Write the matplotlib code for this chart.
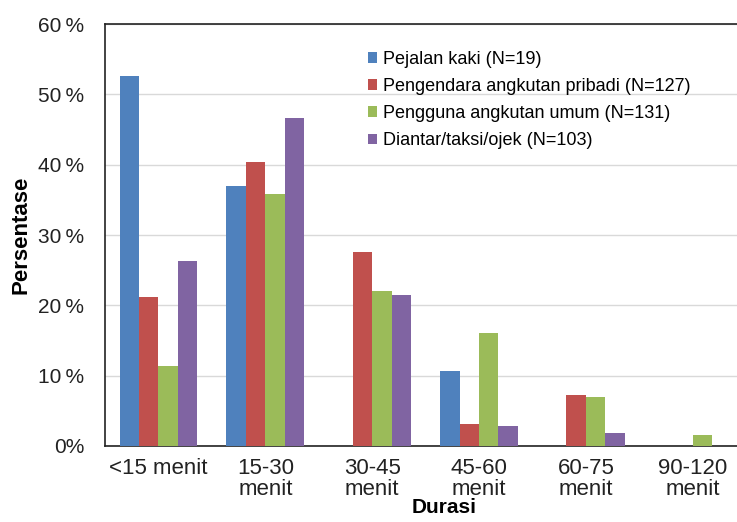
import numpy as np
import matplotlib.pyplot as plt

plt.rcParams['font.family'] = ['Liberation Sans', 'DejaVu Sans']

durasi = ['<15 menit', '15-30\nmenit', '30-45\nmenit', '45-60\nmenit', '60-75\nmenit', '90-120\nmenit']
pejalan_kaki = [52.6, 36.9, 0.0, 10.6, 0.0, 0.0]
pengendara_pribadi = [21.2, 40.4, 27.6, 3.1, 7.3, 0.0]
pengguna_umum = [11.4, 35.9, 22.1, 16.0, 7.0, 1.6]
diantar = [26.3, 46.7, 21.4, 2.9, 1.9, 0.0]

series = [
    ('Pejalan kaki (N=19)', pejalan_kaki, '#4F81BD'),
    ('Pengendara angkutan pribadi (N=127)', pengendara_pribadi, '#C0504D'),
    ('Pengguna angkutan umum (N=131)', pengguna_umum, '#9BBB59'),
    ('Diantar/taksi/ojek (N=103)', diantar, '#8064A2'),
]

fig = plt.figure(figsize=(7.37, 5.22), dpi=100)
ax = fig.add_axes([0.1425, 0.1456, 0.87, 0.8084])

x = np.arange(len(durasi))
w = 0.182
for i, (name, vals, col) in enumerate(series):
    ax.bar(x + (i - 1.5) * w, vals, width=w, color=col, label=name, zorder=3)

ax.set_xlim(-0.5, len(durasi) - 0.5)
ax.set_ylim(0, 60)
ax.set_yticks(np.arange(0, 61, 10))
ax.set_yticklabels(['0%'] + ['%d\u2009%%' % v for v in range(10, 61, 10)])
ax.set_xticks(x)
ax.set_xticklabels(durasi, linespacing=1.0)
ax.tick_params(axis='both', length=0, colors='#222222')
ax.tick_params(axis='y', pad=15, labelsize=15)
ax.tick_params(axis='x', pad=9, labelsize=16)
ax.yaxis.grid(True, color='#D9D9D9', linewidth=1, zorder=0)

for s in ax.spines.values():
    s.set_color('#222222')
    s.set_linewidth(1.2)

ax.set_ylabel('Persentase', fontsize=16, fontweight='bold')
ax.yaxis.set_label_coords(-0.115, 0.5)
ax.set_xlabel('Durasi', fontsize=15, fontweight='bold')
ax.xaxis.set_label_coords(0.529, -0.123)

ax.legend(loc='upper left', bbox_to_anchor=(0.385, 0.975), frameon=False,
          fontsize=13, handlelength=0.5, handleheight=0.5, handletextpad=0.35,
          labelspacing=0.56)

fig.savefig('out.png', dpi=100)
